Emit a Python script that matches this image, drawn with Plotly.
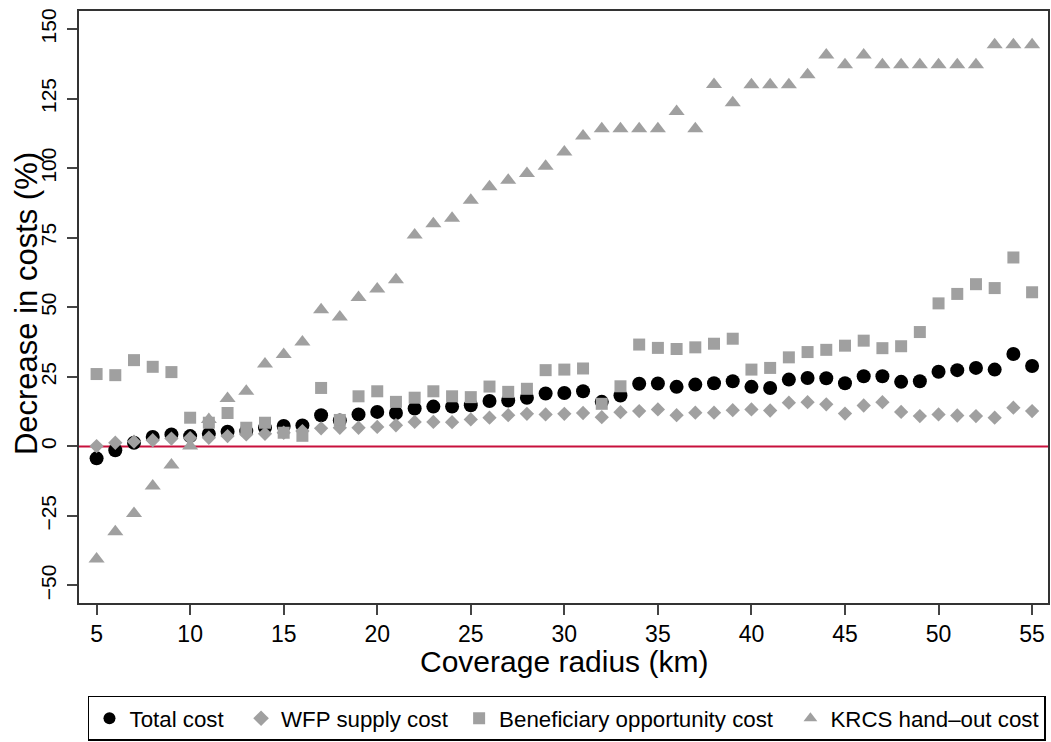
import plotly.graph_objects as go

radius = list(range(5, 56))

total_cost = [-4.3, -1.4, 1.3, 3.4, 4.3, 3.7, 4.5, 5.3, 5.5, 6.7, 7.3, 7.5, 11.2, 9.3, 11.5, 12.4, 12.0,
              13.6, 14.3, 14.3, 14.8, 16.3, 16.5, 17.5, 19.0, 19.2, 19.8, 16.0, 18.3, 22.5, 22.6, 21.4, 22.2, 22.7,
              23.4, 21.4, 21.0, 24.0, 24.6, 24.5, 22.7, 25.2, 25.2, 23.2, 23.4, 26.8, 27.4, 28.2, 27.6, 33.2, 28.9]

wfp_supply = [0.1, 1.3, 1.7, 2.2, 2.8, 3.0, 3.1, 3.7, 4.3, 4.5, 4.9, 5.5, 6.5, 6.7, 6.7, 7.0, 7.6,
              8.8, 8.8, 8.7, 9.7, 10.3, 11.2, 11.7, 11.5, 11.7, 12.0, 10.5, 12.3, 12.7, 13.3, 11.2, 12.1, 12.1,
              13.0, 13.3, 12.9, 15.7, 15.9, 15.1, 11.8, 14.7, 15.9, 12.4, 10.9, 11.5, 11.1, 10.9, 10.3, 13.9, 12.7]

beneficiary = [26.0, 25.6, 31.0, 28.6, 26.7, 10.3, 8.5, 12.0, 6.7, 8.5, 4.9, 3.8, 21.0, 9.5, 18.0, 19.8, 16.0,
               17.5, 19.8, 18.0, 17.7, 21.5, 19.6, 20.7, 27.4, 27.6, 28.0, 15.3, 21.6, 36.6, 35.4, 35.0, 35.6, 36.9,
               38.7, 27.6, 28.2, 32.0, 33.9, 34.7, 36.2, 38.0, 35.3, 36.0, 41.1, 51.4, 54.8, 58.3, 56.9, 67.9, 55.4]

krcs_handout = [-40.5, -30.7, -24.1, -14.2, -6.7, 0.1, 9.7, 17.2, 19.8, 29.6, 33.0, 37.5, 49.1, 46.5, 53.5, 56.6, 59.9,
                76.0, 80.0, 82.0, 88.5, 93.3, 95.7, 98.1, 100.7, 105.8, 111.6, 114.2, 114.2, 114.2, 114.2, 120.4, 114.2, 130.1,
                123.5, 130.0, 130.0, 130.0, 133.6, 140.7, 137.2, 140.7, 137.2, 137.2, 137.2, 137.2, 137.2, 137.2, 144.4, 144.4, 144.4]

series_names = ["Total cost", "WFP supply cost", "Beneficiary opportunity cost", "KRCS hand\u2013out cost"]
# non-breaking spaces pad legend entries to match the reference spacing
legend_pad = ["\u00a0\u00a0", "\u00a0", "\u00a0\u00a0", ""]
x_ticks = [5, 10, 15, 20, 25, 30, 35, 40, 45, 50, 55]
y_ticks = [-50, -25, 0, 25, 50, 75, 100, 125, 150]
y_tick_text = ["\u221250", "\u221225", "0", "25", "50", "75", "100", "125", "150"]

GREY = "#a0a0a0"
FONT = "Liberation Sans, Arial, sans-serif"

fig = go.Figure()
fig.add_trace(go.Scatter(x=radius, y=total_cost, mode="markers", name=series_names[0] + legend_pad[0],
                         marker=dict(symbol="circle", size=14, color="black")))
fig.add_trace(go.Scatter(x=radius, y=wfp_supply, mode="markers", name=series_names[1] + legend_pad[1],
                         marker=dict(symbol="diamond", size=11, color=GREY)))
fig.add_trace(go.Scatter(x=radius, y=beneficiary, mode="markers", name=series_names[2] + legend_pad[2],
                         marker=dict(symbol="square", size=12, color=GREY)))
fig.add_trace(go.Scatter(x=radius, y=krcs_handout, mode="markers", name=series_names[3] + legend_pad[3],
                         marker=dict(symbol="triangle-up", size=14, color=GREY)))

fig.add_hline(y=0, line=dict(color="#c8103c", width=2), layer="below")

L, R, T, B = 79, 1, 11, 137
W, H = 1051, 742
pw, ph = W - L - R, H - T - B

fig.update_layout(
    width=W, height=H,
    margin=dict(l=L, r=R, t=T, b=B),
    paper_bgcolor="white", plot_bgcolor="white",
    font=dict(family=FONT, color="black", size=20),
    showlegend=True,
    legend=dict(orientation="h", x=(88 - L) / pw, xanchor="left",
                y=(T + ph - 698) / ph, yanchor="top",
                font=dict(size=22.3), bordercolor="black", borderwidth=1.5,
                bgcolor="white", itemsizing="constant"),
    xaxis=dict(range=[4.06, 55.85], tickvals=x_ticks, ticks="outside", ticklen=10, tickwidth=1.5,
               showline=True, linecolor="#333333", linewidth=1.5, mirror=True,
               showgrid=False, zeroline=False, tickfont=dict(size=23)),
    yaxis=dict(range=[-56.3, 156.5], tickvals=y_ticks, ticktext=y_tick_text, ticks="outside",
               ticklen=10, tickwidth=1.5, tickangle=-90, ticklabelstandoff=3,
               showline=True, linecolor="#333333", linewidth=1.5, mirror=True,
               showgrid=False, zeroline=False, tickfont=dict(size=21)),
    annotations=[
        dict(text="Decrease in costs (%)", xref="paper", yref="paper",
             x=(26 - L) / pw, y=(T + ph - 305) / ph, xanchor="center", yanchor="middle",
             textangle=-90, showarrow=False, font=dict(size=31)),
        dict(text="Coverage radius (km)", xref="paper", yref="paper",
             x=0.5, y=(T + ph - 664) / ph, xanchor="center", yanchor="middle",
             showarrow=False, font=dict(size=30)),
    ],
)

fig.write_html("out.html")
